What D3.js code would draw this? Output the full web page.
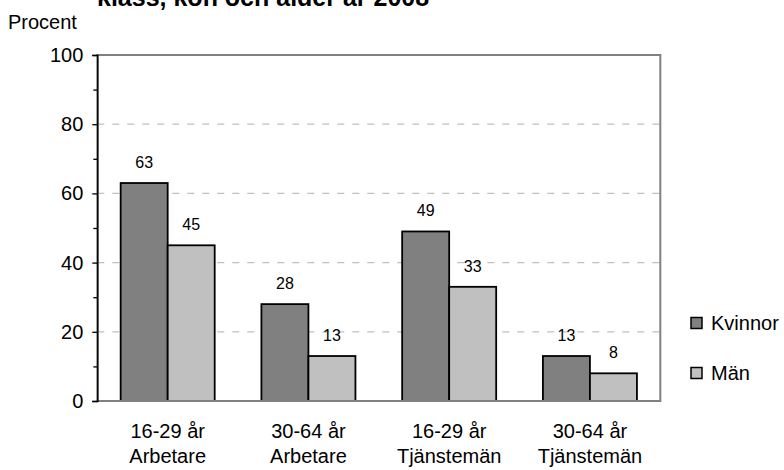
<!DOCTYPE html>
<html>
<head>
<meta charset="utf-8">
<script src="https://cdn.jsdelivr.net/npm/d3@7"></script>
<style>
  html, body { margin: 0; padding: 0; background: #fff; }
  svg { display: block; font-family: "Liberation Sans", Arial, sans-serif; }
</style>
</head>
<body>
<svg id="chart" width="784" height="470"></svg>
<script>
const titleText = "klass, kön och ålder år 2008";
const yAxisTitle = "Procent";
const categories = [["16-29 år", "Arbetare"], ["30-64 år", "Arbetare"], ["16-29 år", "Tjänstemän"], ["30-64 år", "Tjänstemän"]];
const seriesNames = ["Kvinnor", "Män"];
const kvinnor = [63, 28, 49, 13];
const man = [45, 13, 33, 8];
const yTicks = [0, 20, 40, 60, 80, 100];
const yMinorTicks = [10, 30, 50, 70, 90];
const gridValues = [20, 40, 60, 80];
const colors = ["#808080", "#c0c0c0"];

(function () {
const seriesValues = [kvinnor, man];
const catKeys = categories.map((c, i) => String(i));

const svg = d3.select("#chart");
const pLeft = 97.3, pRight = 660.3, pTop = 55, pBottom = 401;

const x0 = d3.scaleBand().domain(catKeys).range([pLeft, pRight]).paddingInner(0.332).paddingOuter(0.166);
const x1 = d3.scaleBand().domain(seriesNames).range([0, x0.bandwidth()]).padding(0);
const y = d3.scaleLinear().domain([0, 100]).range([pBottom, pTop]);

// title (partially cut off at top)
svg.append("text").attr("x", 97).attr("y", 6)
  .attr("font-size", 25).attr("font-weight", "bold").attr("fill", "#000")
  .text(titleText);

svg.append("text").attr("x", 8).attr("y", 29)
  .attr("font-size", 20).attr("fill", "#000").text(yAxisTitle);

// gridlines
svg.append("g").selectAll("line").data(gridValues).join("line")
  .attr("x1", pLeft).attr("x2", pRight)
  .attr("y1", d => y(d)).attr("y2", d => y(d))
  .attr("stroke", "#c0c0c0").attr("stroke-width", 1.3).attr("stroke-dasharray", "7,8");

// plot area border
svg.append("rect").attr("x", pLeft).attr("y", pTop)
  .attr("width", pRight - pLeft).attr("height", pBottom - pTop)
  .attr("fill", "none").attr("stroke", "#808080").attr("stroke-width", 2);

// bars
const groups = svg.append("g").selectAll("g").data(catKeys).join("g")
  .attr("transform", d => `translate(${x0(d)},0)`);
groups.selectAll("rect").data((d, i) => seriesNames.map((s, j) => ({ s, v: seriesValues[j][i], j })))
  .join("rect")
  .attr("x", d => x1(d.s))
  .attr("y", d => y(d.v))
  .attr("width", x1.bandwidth())
  .attr("height", d => y(0) - y(d.v))
  .attr("fill", d => colors[d.j])
  .attr("stroke", "#000").attr("stroke-width", 1.8);

// data labels
groups.selectAll("text").data((d, i) => seriesNames.map((s, j) => ({ s, v: seriesValues[j][i], j })))
  .join("text")
  .attr("x", d => x1(d.s) + x1.bandwidth() / 2)
  .attr("y", d => y(d.v) - 15)
  .attr("text-anchor", "middle").attr("font-size", 16).attr("fill", "#000")
  .text(d => d.v);

// bottom axis line
svg.append("line").attr("x1", pLeft).attr("x2", pRight).attr("y1", pBottom).attr("y2", pBottom)
  .attr("stroke", "#808080").attr("stroke-width", 2);

// y axis
const yAxis = d3.axisLeft(y).tickValues(yTicks).tickSize(5).tickPadding(9).tickFormat(d3.format("d"));
const gy = svg.append("g").attr("transform", `translate(${pLeft},0)`).call(yAxis);
gy.select(".domain").attr("stroke", "#000").attr("stroke-width", 1.5);
gy.selectAll(".tick line").attr("stroke", "#000").attr("stroke-width", 1.3);
gy.selectAll(".tick text").attr("font-size", 20).attr("font-family", "Liberation Sans, Arial, sans-serif").attr("fill", "#000");
const yMinor = d3.axisLeft(y).tickValues(yMinorTicks).tickSize(4).tickFormat("");
const gym = svg.append("g").attr("transform", `translate(${pLeft},0)`).call(yMinor);
gym.select(".domain").remove();
gym.selectAll(".tick line").attr("stroke", "#000").attr("stroke-width", 1.3);

// category labels
const catG = svg.append("g").selectAll("text").data(catKeys).join("text")
  .attr("x", d => x0(d) + x0.bandwidth() / 2)
  .attr("y", 438)
  .attr("text-anchor", "middle").attr("font-size", 20).attr("fill", "#000");
catG.selectAll("tspan").data((d, i) => categories[i]).join("tspan")
  .attr("x", function () { return d3.select(this.parentNode).attr("x"); })
  .attr("dy", (d, i) => i === 0 ? 0 : 25)
  .text(d => d);

// legend
const legendY = [323, 373];
const lg = svg.append("g").selectAll("g").data(seriesNames).join("g")
  .attr("transform", (d, i) => `translate(691,${legendY[i]})`);
lg.append("rect").attr("x", 0).attr("y", -5.5).attr("width", 11).attr("height", 11)
  .attr("fill", (d, i) => colors[i]).attr("stroke", "#000").attr("stroke-width", 1.5);
lg.append("text").attr("x", 20).attr("y", 6.5).attr("font-size", 20).attr("fill", "#000").text(d => d);
})();
</script>
</body>
</html>
